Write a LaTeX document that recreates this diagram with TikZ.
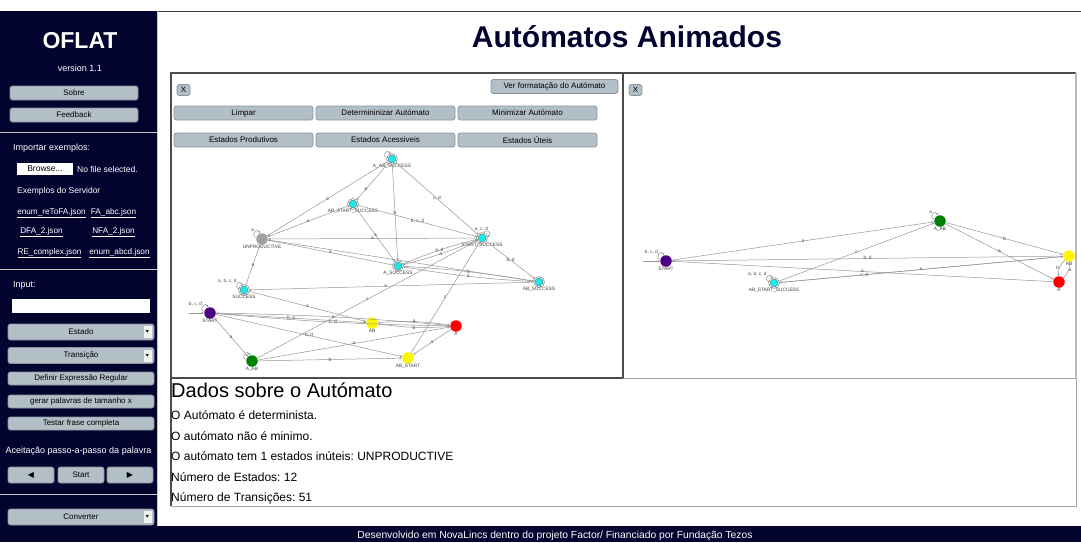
\documentclass[tikz,border=0pt]{standalone}
\usepackage{fontspec}
\setmainfont{Liberation Sans}
\newfontfamily\symfont{DejaVu Sans}
\usetikzlibrary{arrows.meta}
\definecolor{navy}{RGB}{3,3,48}
\definecolor{btnfill}{RGB}{178,191,198}
\definecolor{btnline}{RGB}{138,150,158}
\definecolor{stcyan}{RGB}{25,235,235}
\definecolor{stpurple}{RGB}{75,0,130}
\definecolor{stgreen}{RGB}{0,128,0}
\definecolor{styellow}{RGB}{255,245,0}
\definecolor{stred}{RGB}{255,0,0}
\definecolor{stgray}{RGB}{160,160,160}
\definecolor{transgray}{RGB}{150,150,150}
\newcommand{\fsz}[1]{\fontsize{#1}{#1}\selectfont}
\frenchspacing

\begin{document}
\begin{tikzpicture}[x=1pt,y=-1pt,
  btn/.style={draw=btnline,line width=0.8pt,fill=btnfill,rounded corners=2.5pt,inner sep=0pt,font=\fsz{8},minimum height=14pt},
  ddbox/.style={fill=white!80!btnfill,inner sep=0pt,minimum width=8pt,minimum height=12pt,font=\symfont\fsz{6}},
  sidetxt/.style={text=white,font=\fsz{9},inner sep=0pt},
  link/.style={text=white,font=\fsz{8.2},inner sep=0pt},
  datatxt/.style={anchor=west,inner sep=0pt,font=\fsz{12}},
  st/.style={circle,inner sep=0pt,minimum size=11.5pt},
  acc/.style={circle,inner sep=0pt,minimum size=9.5pt,fill=stcyan,draw=black!60,line width=0.5pt,double=white,double distance=0.7pt},
  nlbl/.style={font=\fsz{4.8},text=black!75,inner sep=0.3pt},
  trans/.style={draw=transgray,line width=0.5pt,-{Stealth[length=2.6pt,width=2.2pt]}},
  elbl/.style={font=\fsz{4.8},text=black!70,inner sep=0.4pt}]
\useasboundingbox (0,0) rectangle (1081,542);
\fill[white] (0,0) rectangle (1081,542);
\fill[navy] (0,11) rectangle (157,526);
\fill[navy] (0,526) rectangle (1081,542);
\draw[black!75,line width=1pt] (157,11) -- (1081,11);
\draw[gray!45,line width=0.8pt] (157,11) -- (157,526);
\draw[gray!45,line width=1pt] (0,132) -- (157,132);
\draw[gray!45,line width=1pt] (0,269) -- (157,269);
\draw[gray!45,line width=1pt] (0,494) -- (157,494);

\node[text=white,font=\bfseries\fsz{23},inner sep=0pt] (oflat) at (80,41) {OFLAT};
\node[sidetxt] (version) at (80,68) {version 1.1};
\node[btn,minimum width=128pt] (sobre) at (74,93) {Sobre};
\node[btn,minimum width=128pt] (feedback) at (74,115) {Feedback};
\node[sidetxt,anchor=west] (importar) at (13,148) {Importar exemplos:};
\node[fill=white,inner sep=0pt,minimum width=56pt,minimum height=12pt,font=\fsz{8.5}] (browse) at (45,169) {Browse...};
\node[sidetxt,font=\fsz{8.5},anchor=west] (nofile) at (77,169) {No file selected.};
\node[sidetxt,font=\fsz{8.5},anchor=west] (servidor) at (17,191) {Exemplos do Servidor};
\node[link] (ex1) at (51.5,213) {\underline{enum\_reToFA.json}};
\node[link] (ex2) at (113.5,213) {\underline{FA\_abc.json}};
\node[link] (ex3) at (41.5,232) {\underline{DFA\_2.json}};
\node[link] (ex4) at (113.5,232) {\underline{NFA\_2.json}};
\node[link] (ex5) at (49.5,253) {\underline{RE\_complex.json}};
\node[link] (ex6) at (119.5,253) {\underline{enum\_abcd.json}};

\node[sidetxt,anchor=west] (inputlbl) at (13,285) {Input:};
\node[fill=white,inner sep=0pt,minimum width=138pt,minimum height=14pt] (inputbox) at (81,306) {};
\node[btn,minimum width=146pt,minimum height=16pt] (estado) at (81,332) {Estado};
\node[ddbox] (estadodd) at (147.5,332) {▾};
\node[btn,minimum width=146pt,minimum height=16pt] (transicao) at (81,355.5) {Transição};
\node[ddbox] (transicaodd) at (147.5,355.5) {▾};
\node[btn,minimum width=146pt,minimum height=13pt] (definir) at (81,378.5) {Definir Expressão Regular};
\node[btn,minimum width=146pt,minimum height=13pt] (gerar) at (81,401.5) {gerar palavras de tamanho x};
\node[btn,minimum width=146pt,minimum height=13pt] (testar) at (81,423.5) {Testar frase completa};
\node[sidetxt] (passo) at (78.5,451) {Aceitação passo-a-passo da palavra};
\node[btn,minimum width=46pt,minimum height=16pt,font=\symfont\fsz{8}] (prev) at (31,475) {◀};
\node[btn,minimum width=46pt,minimum height=16pt] (startbtn) at (81,475) {Start};
\node[btn,minimum width=46pt,minimum height=16pt,font=\symfont\fsz{8}] (next) at (130,475) {▶};
\node[btn,minimum width=146pt,minimum height=16pt] (converter) at (81,517) {Converter};
\node[ddbox] (converterdd) at (147.5,517) {▾};

\node[text=navy,font=\bfseries\fsz{30},inner sep=0pt] (title) at (627,37) {Autómatos Animados};

\draw[black!70,line width=1.2pt] (171,73) rectangle (623,378);
\draw[black!70,line width=1.2pt] (623,378) -- (623,73) -- (1076,73);
\draw[gray!55,line width=1.2pt] (1076,73) -- (1076,378);
\draw[black!70,line width=1.2pt] (171,378) -- (171,506);
\draw[gray!70,line width=1pt] (171,506) -- (1076,506) -- (1076,378) -- (623,378);

\node[btn,minimum width=13pt,minimum height=11pt] (closel) at (183.5,90) {X};
\node[btn,minimum width=127pt] (verformat) at (554.5,86.5) {Ver formatação do Autómato};
\node[btn,minimum width=139pt] (limpar) at (243.5,113) {Limpar};
\node[btn,minimum width=139pt] (determ) at (385.5,113) {Determininizar Autómato};
\node[btn,minimum width=139pt] (minim) at (527.5,113) {Minimizar Autómato};
\node[btn,minimum width=139pt] (produtivos) at (243.5,140) {Estados Produtivos};
\node[btn,minimum width=139pt] (acessiveis) at (385.5,140) {Estados Acessiveis};
\node[btn,minimum width=139pt] (uteis) at (527.5,140) {Estados Úteis};
\node[btn,minimum width=13pt,minimum height=11pt] (closer) at (635.5,90) {X};

\node[acc,label={[nlbl]below:A\_AB\_SUCCESS}] (aabsucc) at (392,159) {};
\node[acc,label={[nlbl]below:AB\_START\_SUCCESS}] (abstsucc) at (353,204) {};
\node[st,fill=stgray,label={[nlbl]below:UNPRODUCTIVE}] (unprod) at (262,239) {};
\node[acc,label={[nlbl]below:SUCCESS}] (succ) at (244,290) {};
\node[st,fill=stpurple,label={[nlbl]below:START}] (start) at (210,313) {};
\node[st,fill=stgreen,label={[nlbl]below:A\_AB}] (aab) at (252,361) {};
\node[st,fill=styellow,label={[nlbl]below:AB}] (ab) at (372,323) {};
\node[st,fill=stred,label={[nlbl]below:A}] (a) at (456,326) {};
\node[st,fill=styellow,label={[nlbl]below:AB\_START}] (abstart) at (408,358) {};
\node[acc,label={[nlbl]below:A\_SUCCESS}] (asucc) at (398,266) {};
\node[acc,label={[nlbl]below:START\_SUCCESS}] (stsucc) at (482,238) {};
\node[acc,label={[nlbl]below:AB\_SUCCESS}] (absucc) at (539,282) {};
\coordinate (init) at (189,313);

\draw[trans] (init) -- (start);
\draw[trans] (aabsucc) -- node[elbl] {a} (unprod);
\draw[trans] (aabsucc) -- node[elbl,pos=0.7] {a} (abstsucc);
\draw[trans] (aabsucc) -- node[elbl] {b} (asucc);
\draw[trans] (aabsucc) -- node[elbl] {c, d} (stsucc);
\draw[trans] (abstsucc) -- node[elbl] {a} (unprod);
\draw[trans] (abstsucc) -- node[elbl] {b, c, d} (stsucc);
\draw[trans] (abstsucc) -- node[elbl] {a} (asucc);
\draw[trans] (stsucc) -- node[elbl] {a} (unprod);
\draw[trans] (asucc) -- node[elbl,pos=0.5] {a} (unprod);
\draw[trans] (absucc) -- (unprod);
\draw[trans] (succ) -- node[elbl] {a} (unprod);
\draw[trans] (absucc) -- node[elbl,pos=0.52] {a} (succ);
\draw[trans] (succ) -- node[elbl] {a} (ab);
\draw[trans] (start) -- node[elbl] {b, d} (ab);
\draw[trans] (start) to[bend right=2] node[elbl] {c, d} (a);
\draw[trans] (a) to[bend right=2] node[elbl] {a} (start);
\draw[trans] (ab) to[bend left=6] node[elbl] {a} (a);
\draw[trans] (a) to[bend left=6] node[elbl] {b} (ab);
\draw[trans] (start) -- node[elbl] {b, d} (abstart);
\draw[trans] (start) -- node[elbl] {a} (aab);
\draw[trans] (aab) -- node[elbl] {c} (stsucc);
\draw[trans] (aab) -- node[elbl] {a} (a);
\draw[trans] (aab) -- node[elbl] {b} (abstart);
\draw[trans] (abstart) -- node[elbl] {c} (stsucc);
\draw[trans] (a) -- node[elbl] {a} (abstart);
\draw[trans] (asucc) to[bend left=4] node[elbl] {a, d} (stsucc);
\draw[trans] (stsucc) to[bend left=4] node[elbl] {a} (asucc);
\draw[trans] (asucc) to[bend left=3] node[elbl] {b} (absucc);
\draw[trans] (absucc) to[bend left=3] node[elbl] {a} (asucc);
\draw[trans] (stsucc) -- node[elbl] {b, d} (absucc);
\draw[trans] (aabsucc) to[out=165,in=110,min distance=7pt] (aabsucc);
\draw[trans] (unprod) to[out=165,in=110,min distance=7pt] node[elbl,above left] {a} (unprod);
\draw[trans] (succ) to[out=165,in=110,min distance=7pt] node[elbl,above left] {a, b, c, d} (succ);
\draw[trans] (start) to[out=165,in=110,min distance=7pt] node[elbl,above left] {b, c, d} (start);
\draw[trans] (aab) to[out=165,in=110,min distance=7pt] (aab);
\draw[trans] (stsucc) to[out=70,in=15,min distance=7pt] node[elbl,above left] {a, c, d} (stsucc);

\node[st,fill=stpurple,label={[nlbl]below:START}] (rstart) at (666,261) {};
\node[acc,label={[nlbl]below:AB\_START\_SUCCESS}] (rabstsucc) at (774,283) {};
\node[st,fill=stgreen,label={[nlbl]below:A\_AB}] (raab) at (940,221) {};
\node[st,fill=styellow,label={[nlbl]below:AB}] (rab) at (1069,256) {};
\node[st,fill=stred,label={[nlbl]below:A}] (ra) at (1059,282) {};
\coordinate (rinit) at (643,261);

\draw[trans] (rinit) -- (rstart);
\draw[trans] (rstart) -- node[elbl] {a} (raab);
\draw[trans] (rab) -- node[elbl] {b, d} (rstart);
\draw[trans] (ra) -- node[elbl] {a} (rstart);
\draw[trans] (rabstsucc) -- node[elbl] {c} (raab);
\draw[trans] (rabstsucc) -- node[elbl,pos=0.3] {c, d} (rab);
\draw[trans] (rab) -- node[elbl] {a} (rabstsucc);
\draw[trans] (raab) -- node[elbl] {b} (rab);
\draw[trans] (raab) -- node[elbl] {a} (ra);
\draw[trans] (rab) to[bend right=25] node[elbl,left] {b} (ra);
\draw[trans] (ra) to[bend right=25] node[elbl,right] {a} (rab);
\draw[trans] (rstart) to[out=165,in=110,min distance=7pt] node[elbl,above left] {b, c, d} (rstart);
\draw[trans] (rabstsucc) to[out=165,in=110,min distance=7pt] node[elbl,above left] {a, b, c, d} (rabstsucc);
\draw[trans] (raab) to[out=165,in=110,min distance=7pt] node[elbl,above left] {a} (raab);

\node[anchor=west,inner sep=0pt,font=\fsz{20}] (dados) at (171,390) {Dados sobre o Autómato};
\node[datatxt] (info1) at (171,415) {O Autómato é determinista.};
\node[datatxt] (info2) at (171,436) {O autómato não é minimo.};
\node[datatxt] (info3) at (171,456.5) {O autómato tem 1 estados inúteis: UNPRODUCTIVE};
\node[datatxt] (info4) at (171,477.5) {Número de Estados: 12};
\node[datatxt] (info5) at (171,498) {Número de Transições: 51};

\node[text=white,font=\fsz{10.3},inner sep=0pt] (footer) at (555,535.5) {Desenvolvido em NovaLincs dentro do projeto Factor/ Financiado por Fundação Tezos};
\end{tikzpicture}
\end{document}
